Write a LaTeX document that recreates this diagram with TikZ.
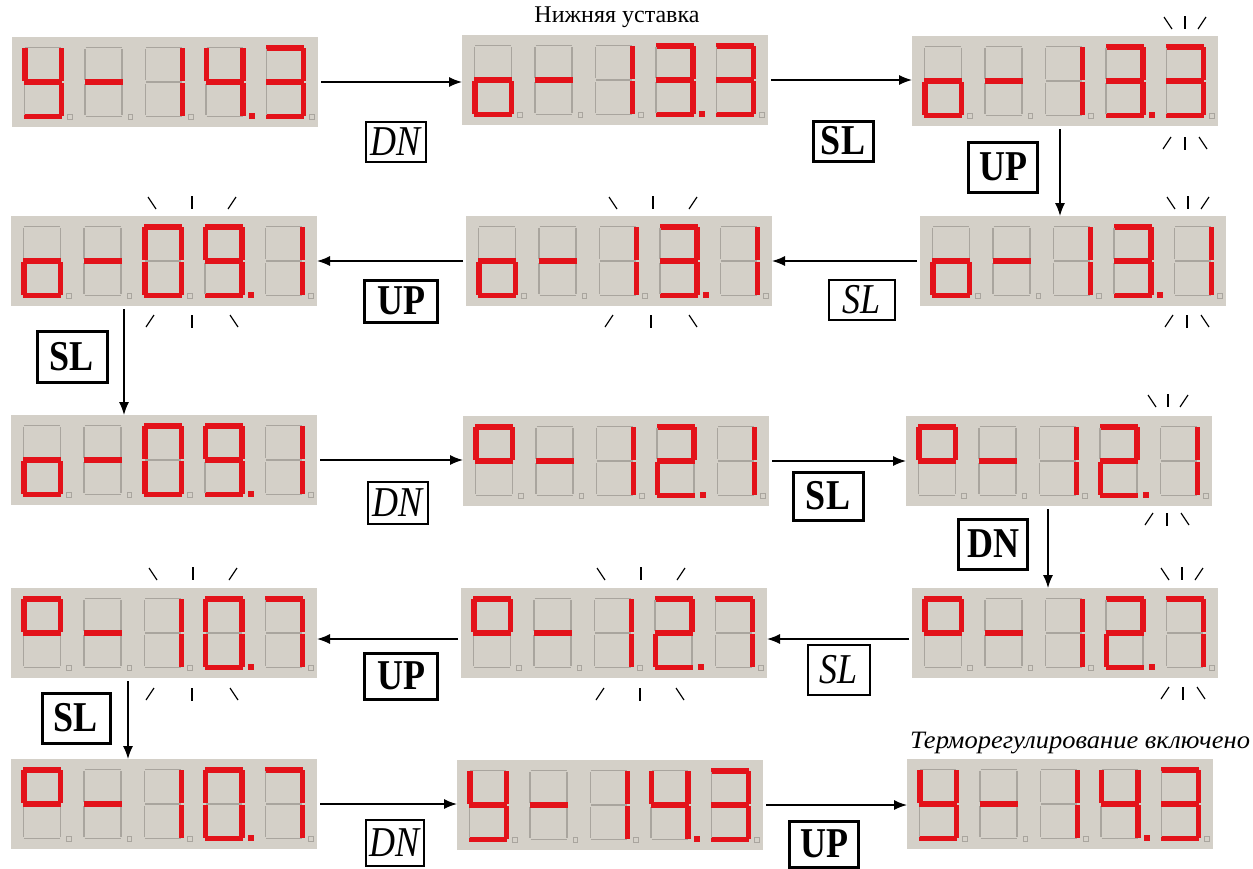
\documentclass[tikz,border=0pt]{standalone}
\usepackage{fontspec}
\usepackage{graphicx}
\setmainfont{Liberation Serif}
\usetikzlibrary{arrows.meta}
\definecolor{panelc}{HTML}{D4D0C8}
\definecolor{segred}{HTML}{E3121A}
\definecolor{segoff}{HTML}{A9A59E}
\tikzset{
 on/.style={fill=segred},
 off/.style={draw=segoff, line width=1.2},
 panel/.style={fill=panelc, minimum width=306, minimum height=90, inner sep=0, outer sep=0, anchor=north west},
 conn/.style={line width=1.4, -{Latex[length=13,width=10]}, shorten <=3},
 keyb/.style={draw, line width=3, font=\fontsize{36}{40}\selectfont\bfseries, inner sep=0},
 keyi/.style={draw, line width=2.5, font=\fontsize{36}{40}\selectfont\itshape, inner sep=0},
 blink/.style={line width=1.2},
}
\newcommand\kt[1]{\scalebox{1}[1.18]{#1}}
\makeatletter
\newcommand\cell[2]{%
 \begin{scope}[shift={(#1,8)}]
 \in@{a}{#2}\ifin@\fill[on](2,0)rectangle(40,5.5);\else\draw[off](3,2.5)--(39,2.5);\fi
 \in@{b}{#2}\ifin@\fill[on](36.5,3)rectangle(42,36);\else\draw[off](39.5,4)--(39.5,35);\fi
 \in@{c}{#2}\ifin@\fill[on](36.5,38)rectangle(42,71);\else\draw[off](39.5,39)--(39.5,70);\fi
 \in@{d}{#2}\ifin@\fill[on](2,68.5)rectangle(40,74);\else\draw[off](3,71.5)--(39,71.5);\fi
 \in@{e}{#2}\ifin@\fill[on](0,38)rectangle(5.5,71);\else\draw[off](2.5,39)--(2.5,70);\fi
 \in@{f}{#2}\ifin@\fill[on](0,3)rectangle(5.5,36);\else\draw[off](2.5,4)--(2.5,35);\fi
 \in@{g}{#2}\ifin@\fill[on](2,34.25)rectangle(40,39.75);\else\draw[off](3,37)--(39,37);\fi
 \in@{p}{#2}\ifin@\fill[on](45,68)rectangle(51,74);\else\draw[off,line width=0.8](45.5,69.5)rectangle(50,74);\fi
 \end{scope}}
\makeatother
\newcommand\disp[6]{\begin{scope}[shift={(#1.north west)}]%
 \cell{10}{#2}\cell{70.5}{#3}\cell{131}{#4}\cell{191.5}{#5}\cell{252}{#6}\end{scope}}
\newcommand\blinkup[3]{%
 \draw[blink] (#1-#3-4,#2) -- (#1-#3+4,#2+12);
 \draw[blink] (#1,#2-1) -- (#1,#2+12);
 \draw[blink] (#1+#3+4,#2) -- (#1+#3-4,#2+12);}
\newcommand\blinkdn[3]{%
 \draw[blink] (#1-#3-4,#2+12) -- (#1-#3+4,#2);
 \draw[blink] (#1,#2) -- (#1,#2+13);
 \draw[blink] (#1+#3-4,#2) -- (#1+#3+4,#2+12);}
\begin{document}
\begin{tikzpicture}[x=1pt,y=-1pt]
\useasboundingbox (0,0) rectangle (1253,868);
% displays
\node[panel] (d1) at (12,37) {};
\node[panel] (d2) at (462,35) {};
\node[panel] (d3) at (912,36) {};
\node[panel] (d4) at (920,216) {};
\node[panel] (d5) at (466,216) {};
\node[panel] (d6) at (11,216) {};
\node[panel] (d7) at (11,415) {};
\node[panel] (d8) at (463,416) {};
\node[panel] (d9) at (906,416) {};
\node[panel] (d10) at (912,588) {};
\node[panel] (d11) at (461,588) {};
\node[panel] (d12) at (11,588) {};
\node[panel] (d13) at (11,759) {};
\node[panel] (d14) at (457,760) {};
\node[panel] (d15) at (907,759) {};
\disp{d1}{bcdfg}{g}{bc}{bcfgp}{abcdg}
\disp{d2}{cdeg}{g}{bc}{abcdgp}{abcdg}
\disp{d3}{cdeg}{g}{bc}{abcdgp}{abcdg}
\disp{d4}{cdeg}{g}{bc}{abcdgp}{bc}
\disp{d5}{cdeg}{g}{bc}{abcdgp}{bc}
\disp{d6}{cdeg}{g}{abcdef}{abcdfgp}{bc}
\disp{d7}{cdeg}{g}{abcdef}{abcdfgp}{bc}
\disp{d8}{abfg}{g}{bc}{abdegp}{bc}
\disp{d9}{abfg}{g}{bc}{abdegp}{bc}
\disp{d10}{abfg}{g}{bc}{abdegp}{abc}
\disp{d11}{abfg}{g}{bc}{abdegp}{abc}
\disp{d12}{abfg}{g}{bc}{abcdefp}{abc}
\disp{d13}{abfg}{g}{bc}{abcdefp}{abc}
\disp{d14}{bcdfg}{g}{bc}{bcfgp}{abcdg}
\disp{d15}{bcdfg}{g}{bc}{bcfgp}{abcdg}
% blink marks
\blinkup{1185}{17}{17} \blinkdn{1185}{137}{18}
\blinkup{1188}{197}{17} \blinkdn{1187}{315}{18}
\blinkup{653}{197}{40} \blinkdn{651}{315}{42}
\blinkup{192}{197}{40} \blinkdn{192}{315}{42}
\blinkup{1168}{395}{16} \blinkdn{1167}{513}{18}
\blinkup{1182}{568}{17} \blinkdn{1183}{687}{18}
\blinkup{641}{568}{40} \blinkdn{640}{688}{40}
\blinkup{193}{568}{40} \blinkdn{192}{688}{42}
% connectors
\draw[conn] (d1.east) -- (d1.east -| d2.west);
\draw[conn] (d2.east) -- (d2.east -| d3.west);
\draw[conn] ([xshift=-5]d3.south) -- ([xshift=-5]d3.south |- d4.north);
\draw[conn] (d4.west) -- (d4.west -| d5.east);
\draw[conn] (d5.west) -- (d5.west -| d6.east);
\draw[conn] ([xshift=-40]d6.south) -- ([xshift=-40]d6.south |- d7.north);
\draw[conn] (d7.east) -- (d7.east -| d8.west);
\draw[conn] (d8.east) -- (d8.east -| d9.west);
\draw[conn] ([xshift=-11]d9.south) -- ([xshift=-11]d9.south |- d10.north);
\draw[conn] ([yshift=-6]d10.west) -- ([yshift=-6]d10.west -| d11.east);
\draw[conn] ([yshift=-6]d11.west) -- ([yshift=-6]d11.west -| d12.east);
\draw[conn] ([xshift=-36]d12.south) -- ([xshift=-36]d12.south |- d13.north);
\draw[conn] (d13.east) -- (d13.east -| d14.west);
\draw[conn] (d14.east) -- (d14.east -| d15.west);
% key labels
\node[keyi, minimum width=60, minimum height=40] (k1) at (396,142) {\kt{DN}};
\node[keyb, minimum width=60, minimum height=40] (k2) at (843,141) {\kt{SL}};
\node[keyb, minimum width=69, minimum height=50] (k3) at (1003,167) {\kt{UP}};
\node[keyi, minimum width=66, minimum height=40] (k4) at (862,300) {\kt{SL}};
\node[keyb, minimum width=73, minimum height=42] (k5) at (401,301) {\kt{UP}};
\node[keyb, minimum width=70, minimum height=51] (k6) at (72,357) {\kt{SL}};
\node[keyi, minimum width=60, minimum height=42] (k7) at (398,503) {\kt{DN}};
\node[keyb, minimum width=70, minimum height=48] (k8) at (828,496) {\kt{SL}};
\node[keyb, minimum width=69, minimum height=50] (k9) at (993,544) {\kt{DN}};
\node[keyi, minimum width=62, minimum height=50] (k10) at (839,670) {\kt{SL}};
\node[keyb, minimum width=73, minimum height=46] (k11) at (401,676) {\kt{UP}};
\node[keyb, minimum width=68, minimum height=50] (k12) at (76,718) {\kt{SL}};
\node[keyi, minimum width=58, minimum height=46] (k13) at (395,843) {\kt{DN}};
\node[keyb, minimum width=69, minimum height=46] (k14) at (824,844) {\kt{UP}};
% texts
\node[font=\fontsize{24}{27}\selectfont, inner sep=0] (t1) at (617,17) {Нижняя уставка};
\node[font=\fontsize{25}{28}\selectfont\itshape, anchor=west, inner sep=0] (t2) at (910,743) {\scalebox{1.06}[1]{Терморегулирование включено}};
\end{tikzpicture}
\end{document}
